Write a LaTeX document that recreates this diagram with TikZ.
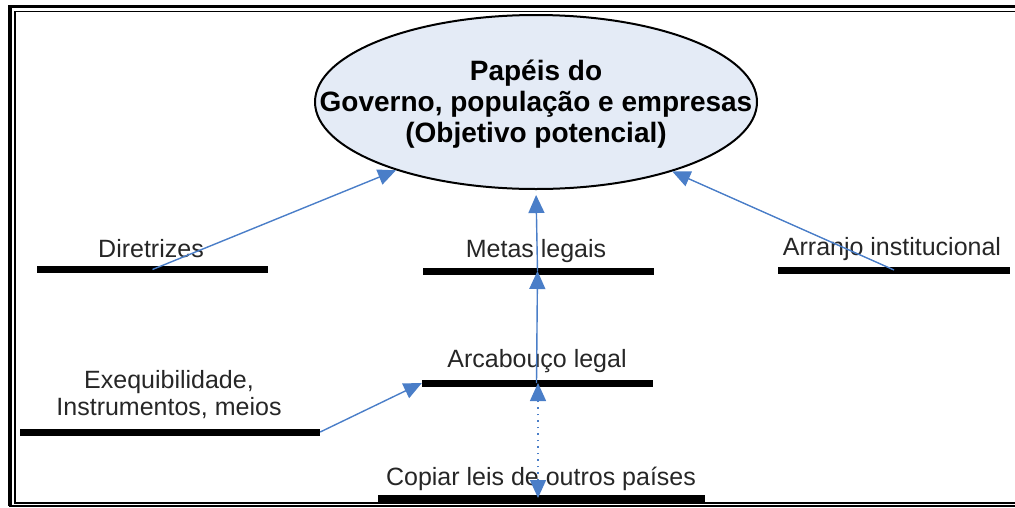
\documentclass[tikz,border=0pt]{standalone}
\usepackage{fontspec}
\setmainfont{Liberation Sans}
\usetikzlibrary{shapes.geometric,arrows.meta}
\definecolor{arrowblue}{RGB}{74,126,200}
\definecolor{ellfill}{RGB}{228,235,246}
\tikzset{
  bar/.style={fill=black, inner sep=0pt, minimum height=7pt, rectangle},
  lbl/.style={inner sep=0pt, font=\fontsize{25}{27}\selectfont, align=center, text=black!85},
  tip/.style={Triangle[length=18pt,width=16pt,fill=arrowblue]},
  conn/.style={draw=arrowblue, line width=1.4pt, -{Triangle[length=18pt,width=16pt,fill=arrowblue]}},
  frameline/.style={fill=black}
}
\begin{document}
\begin{tikzpicture}[x=1pt,y=-1pt]
\useasboundingbox (0,0) rectangle (1015,507);
% frame
\fill[frameline] (8,5) rectangle (1015,8.3);
\fill[frameline] (8,5) rectangle (12.3,505.5);
\fill[frameline] (14,11) rectangle (1015,12.3);
\fill[frameline] (14,11) rectangle (15.7,504);
\fill[frameline] (14,502) rectangle (1015,504.3);
\fill[frameline] (9,505.3) rectangle (1015,506.7);
% ellipse
\node[ellipse, draw=black, line width=2pt, fill=ellfill, minimum width=442pt, minimum height=174pt, inner sep=0pt] (E) at (536,102) {};
\node[inner sep=0pt, align=center, font=\bfseries\fontsize{28}{31}\selectfont] (Et) at (536,104) {Papéis do\\Governo, população e empresas\\(Objetivo potencial)};
% bars
\node[bar, minimum width=231pt] (bD) at (152.5,269.5) {};
\node[bar, minimum width=231pt] (bM) at (538.5,271) {};
\node[bar, minimum width=232pt] (bA) at (894,270) {};
\node[bar, minimum width=231pt] (bL) at (537.5,383) {};
\node[bar, minimum width=300pt] (bX) at (170,432) {};
\node[bar, minimum width=327pt] (bC) at (541.5,498) {};
% labels
\node[lbl] (tD) at (151,249) {Diretrizes};
\node[lbl] (tM) at (536,251) {Metas legais};
\node[lbl] (tA) at (892,249) {Arranjo institucional};
\node[lbl] (tL) at (537,361) {Arcabouço legal};
\node[lbl] (tX) at (169,395) {Exequibilidade,\\Instrumentos, meios};
\node[lbl] (tC) at (541,479) {Copiar leis de outros países};
% connectors
\coordinate (pD) at (E.206);
\coordinate (pA) at (E.333);
\draw[conn] (bD.center) -- (pD);
\draw[conn] (bA.center) -- (pA);
\draw[conn, shorten >=5pt] ([xshift=-1pt]bM.center) -- (E.south);
\draw[conn] ([xshift=-1pt]bL.center) -- ([xshift=-1pt]bM.center);
\draw[conn] (bX.east) -- (bL.west);
\draw[draw=arrowblue, line width=1.4pt, dash pattern=on 1.5pt off 5pt, {Triangle[length=18pt,width=16pt,fill=arrowblue]}-{Triangle[length=18pt,width=16pt,fill=arrowblue]}] ([xshift=-3.5pt]bC.center) -- ([xshift=0.5pt]bL.center);
\end{tikzpicture}
\end{document}
